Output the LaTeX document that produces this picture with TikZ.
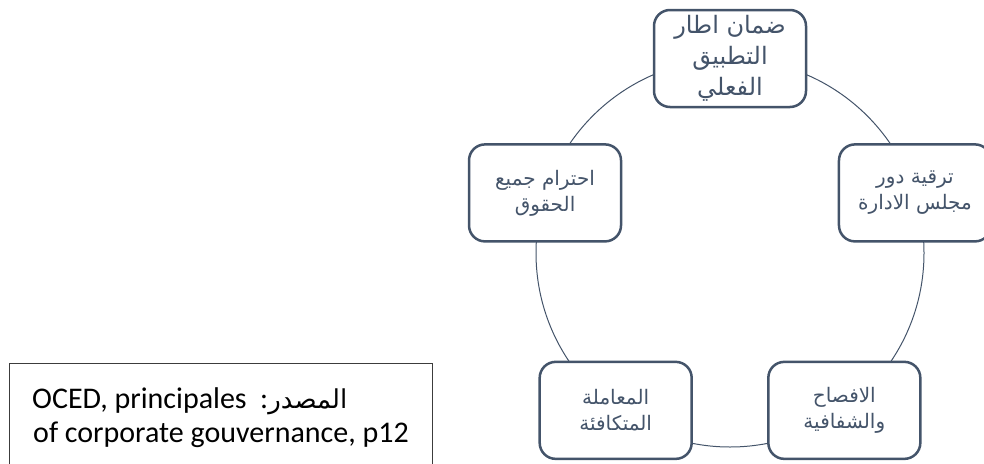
\documentclass[tikz,border=0pt]{standalone}
\usepackage{fontspec}
\setmainfont{Carlito}
\newfontfamily\arabicfont[Script=Arabic]{DejaVu Sans}
\TeXXeTstate=1
\definecolor{slate}{HTML}{44546A}
\definecolor{inkgrey}{HTML}{3C3C3C}
\begin{document}
\begin{tikzpicture}[x=1pt,y=-1pt,
  principle/.style={draw=slate, line width=2.5pt, rounded corners=16pt,
    fill=white, minimum width=152pt, minimum height=97pt, inner sep=0pt,
    align=center, text=slate,
    font=\arabicfont\fontsize{20}{26}\selectfont},
  bigprinciple/.style={principle, font=\arabicfont\fontsize{24}{31}\selectfont},
  srctext/.style={anchor=base west, inner sep=0pt, text=black,
    font=\fontsize{30}{34}\selectfont},
]
\useasboundingbox (0,0) rectangle (984,463);

% the cycle joining the five principles
\node[circle, draw=slate, line width=1pt, minimum size=388pt, inner sep=0pt]
  (ring) at (730,253) {};

% principles placed around the cycle
\node[bigprinciple] (frame) at (ring.90)
  {\beginR ضمان اطار\endR\\\beginR التطبيق\endR\\\beginR الفعلي\endR};
\node[principle] (board) at (ring.18)
  {\beginR ترقية دور\endR\\\beginR مجلس الادارة\endR};
\node[principle] (rights) at (ring.162)
  {\beginR احترام جميع\endR\\\beginR الحقوق\endR};
\node[principle] (equal) at (ring.234)
  {\beginR المعاملة\endR\\\beginR المتكافئة\endR};
\node[principle] (disclose) at (ring.-54)
  {\beginR الافصاح\endR\\\beginR والشفافية\endR};

% source note
\node[draw=inkgrey, line width=1.2pt, anchor=north west, inner sep=0pt,
  minimum width=423pt, minimum height=120pt] (srcbox) at (9,363) {};
\node[srctext] (srcA) at (32,408)
  {OCED, principales\ \ :{\arabicfont\fontsize{26}{30}\selectfont\beginR المصدر\endR}};
\node[srctext] (srcB) at (33,442) {of corporate gouvernance, p12};
\end{tikzpicture}
\end{document}
